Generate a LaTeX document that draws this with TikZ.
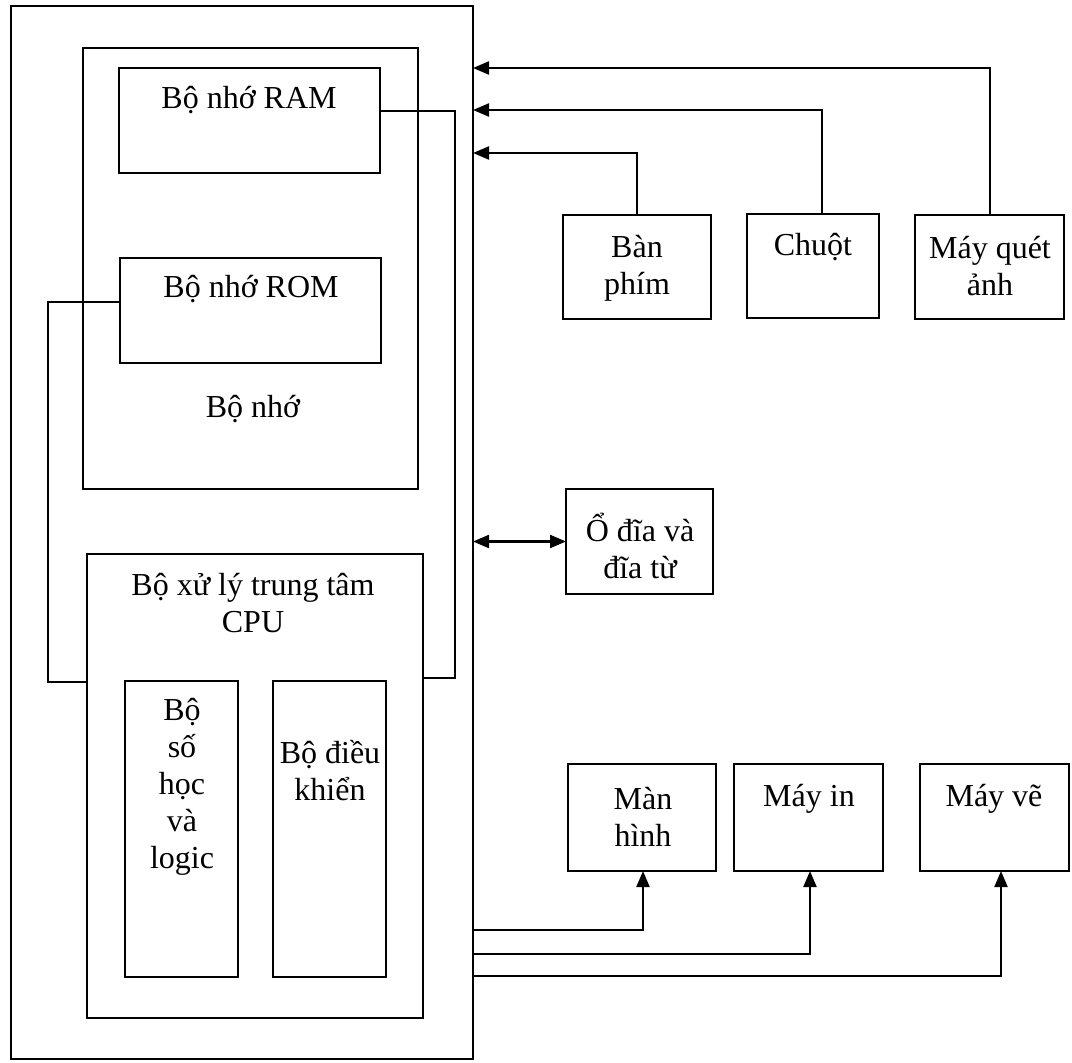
\documentclass[tikz,border=0pt]{standalone}
\usepackage{fontspec}
\setmainfont{Liberation Serif}
\usetikzlibrary{arrows.meta}
\begin{document}
\begin{tikzpicture}[x=1pt,y=-1pt,
  box/.style={draw, line width=2.1pt, inner sep=0pt, outer sep=0pt},
  txt/.style={font=\fontsize{32}{37}\selectfont, align=center, inner sep=0pt},
  conn/.style={line width=2.1pt},
  arr/.style={line width=2.1pt, -{Triangle[length=16pt,width=13pt]}},
  dbl/.style={line width=2.1pt, {Triangle[length=16pt,width=13pt]}-{Triangle[length=16pt,width=13pt]}}]
\fill[white] (0,0) rectangle (1072,1063);
% boxes
\node[box, minimum width=462pt, minimum height=1053pt] (outer) at (242,532.5) {};
\node[box, minimum width=335pt, minimum height=441pt] (mem) at (250.5,268.5) {};
\node[box, minimum width=261pt, minimum height=105pt] (ram) at (249.5,120.5) {};
\node[box, minimum width=261pt, minimum height=105pt] (rom) at (250.5,310.5) {};
\node[box, minimum width=336pt, minimum height=464pt] (cpu) at (255,786) {};
\node[box, minimum width=113pt, minimum height=296pt] (alu) at (181.5,829) {};
\node[box, minimum width=113pt, minimum height=296pt] (ctl) at (329.5,829) {};
\node[box, minimum width=148pt, minimum height=104pt] (kb) at (637,267) {};
\node[box, minimum width=132pt, minimum height=104pt] (mouse) at (813,266) {};
\node[box, minimum width=149pt, minimum height=104pt] (scan) at (989.5,267) {};
\node[box, minimum width=147pt, minimum height=105pt] (disk) at (639.5,541.5) {};
\node[box, minimum width=148pt, minimum height=107pt] (mon) at (642,817.5) {};
\node[box, minimum width=149pt, minimum height=107pt] (prn) at (808.5,817.5) {};
\node[box, minimum width=149pt, minimum height=107pt] (plt) at (994.5,817.5) {};
% texts
\node[txt] (ram-t) at (249,100) {Bộ nhớ RAM};
\node[txt] (rom-t) at (251,289) {Bộ nhớ ROM};
\node[txt] (mem-t) at (253,409) {Bộ nhớ};
\node[txt] (cpu-t) at (253,603.5) {Bộ xử lý trung tâm\\CPU};
\node[txt] (alu-t) at (182,787) {Bộ\\số\\học\\và\\logic};
\node[txt] (ctl-t) at (330,771) {Bộ điều\\khiển};
\node[txt] (kb-t) at (637,268.5) {Bàn\\phím};
\node[txt] (mouse-t) at (813,247) {Chuột};
\node[txt] (scan-t) at (990,266) {Máy quét\\ảnh};
\node[txt] (disk-t) at (640,546) {Ổ đĩa và\\đĩa từ};
\node[txt] (mon-t) at (643,817) {Màn\\hình};
\node[txt] (prn-t) at (809,799) {Máy in};
\node[txt] (plt-t) at (994,799) {Máy vẽ};
% bend points
\coordinate (ramb1) at (455,111);
\coordinate (ramb2) at (455,678);
\coordinate (romb1) at (48,302);
\coordinate (romb2) at (48,682);
\coordinate (scanb) at (990,68);
\coordinate (mouseb) at (822,110);
\coordinate (kbb) at (637,153);
\coordinate (monb) at (643,930);
\coordinate (prnb) at (810,954);
\coordinate (pltb) at (1001,976);
% internal connectors
\draw[conn] (ram.east |- ramb1) -- (ramb1) -- (ramb2) -- (cpu.east |- ramb2);
\draw[conn] (rom.west |- romb1) -- (romb1) -- (romb2) -- (cpu.west |- romb2);
% inputs
\draw[arr] (scan.north -| scanb) -- (scanb) -- (outer.east |- scanb);
\draw[arr] (mouse.north -| mouseb) -- (mouseb) -- (outer.east |- mouseb);
\draw[arr] (kb.north -| kbb) -- (kbb) -- (outer.east |- kbb);
% disk
\draw[dbl] (outer.east |- disk.west) -- (disk.west);
% outputs
\draw[arr] (outer.east |- monb) -- (monb) -- (mon.south -| monb);
\draw[arr] (outer.east |- prnb) -- (prnb) -- (prn.south -| prnb);
\draw[arr] (outer.east |- pltb) -- (pltb) -- (plt.south -| pltb);
\end{tikzpicture}
\end{document}
